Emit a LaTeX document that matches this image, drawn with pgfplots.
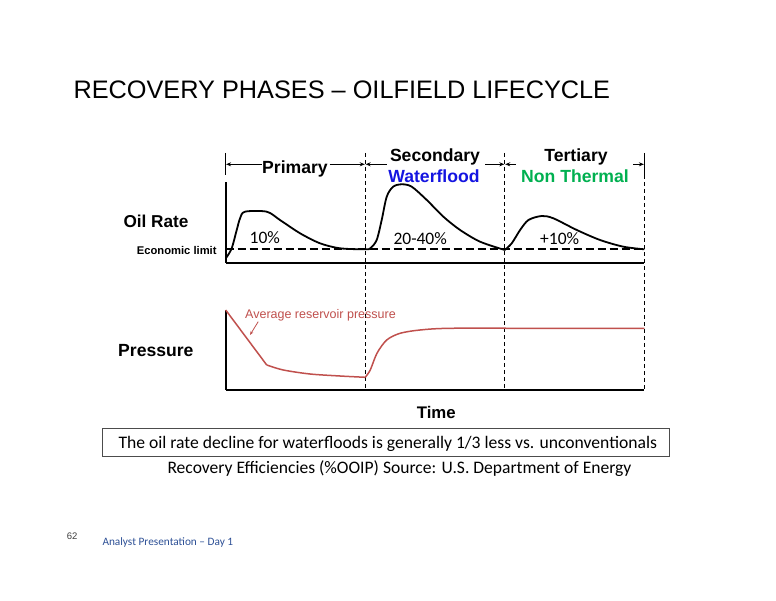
\documentclass[border=0pt]{standalone}
\usepackage{fontspec}
\setmainfont{Liberation Sans}
\newfontfamily\calfont{Carlito}
\usepackage{pgfplots}
\pgfplotsset{compat=1.18}
\usetikzlibrary{arrows.meta}
\definecolor{pred}{RGB}{192,80,77}
\definecolor{wblue}{RGB}{20,20,225}
\definecolor{ngreen}{RGB}{0,176,80}
\definecolor{fblue}{RGB}{45,80,150}
\newcommand{\fs}[1]{\fontsize{#1}{#1}\selectfont}
\begin{document}
\begin{tikzpicture}
\fill[white] (0pt,0pt) rectangle (776pt,600pt);
\path[use as bounding box] (0pt,0pt) rectangle (776pt,600pt);
% title
\node[anchor=base west,inner sep=0] at (73.3pt,501.7pt) {\fs{25.3}RECOVERY PHASES – OILFIELD LIFECYCLE};
% top panel: oil rate
\begin{axis}[at={(225.7pt,337pt)},anchor=south west,scale only axis,
  width=418.6pt,height=81pt,xmin=0,xmax=3,ymin=0,ymax=81,
  axis x line=bottom,axis y line=left,
  axis line style={-,line width=2pt,black},
  ticks=none,clip=false]
% economic limit
\addplot[black,line width=1.8pt,dash pattern=on 8pt off 4pt] coordinates {(0,13.7) (3,13.7)};
% dividers
\addplot[black,line width=1.1pt,dash pattern=on 4.5pt off 2.5pt] coordinates {(1,110) (1,-127)};
\addplot[black,line width=1.1pt,dash pattern=on 4.5pt off 2.5pt] coordinates {(2,110) (2,-127)};
\addplot[black,line width=1.1pt,dash pattern=on 4.5pt off 2.5pt] coordinates {(3,88) (3,-127)};
\addplot[black,line width=1.1pt] coordinates {(3,110) (3,88)};
\addplot[black,line width=1.1pt] coordinates {(0,110) (0,88)};
% oil rate curve
\addplot[black,line width=1.8pt,smooth] coordinates {
(0.005,5.5) (0.043,14.7) (0.079,33) (0.103,44.7) (0.138,51.3) (0.294,51.3)
(0.389,43) (0.533,29.7) (0.676,19.7) (0.819,14.7) (1.0,13.7)
(1.036,14.7) (1.082,23) (1.118,43) (1.154,66.3) (1.2,76.3) (1.262,78.7)
(1.333,76.3) (1.441,63) (1.56,46.3) (1.68,33) (1.823,21.3) (2.0,13)};
\addplot[black,line width=1.8pt,smooth] coordinates {
(2.0,13) (2.05,19.7) (2.11,33) (2.17,43) (2.265,47) (2.348,44.7)
(2.516,33) (2.683,23) (2.85,16.3) (3.0,13.7)};
% bracket arrows
\draw[line width=1pt,-{Stealth[length=5pt,width=4pt]}] (axis cs:0.26,98.7) -- (axis cs:0.003,98.7);
\draw[line width=1pt,-{Stealth[length=5pt,width=4pt]}] (axis cs:0.745,98.7) -- (axis cs:0.997,98.7);
\draw[line width=1pt,-{Stealth[length=5pt,width=4pt]}] (axis cs:1.155,98.7) -- (axis cs:1.003,98.7);
\draw[line width=1pt,-{Stealth[length=5pt,width=4pt]}] (axis cs:1.859,98.7) -- (axis cs:1.997,98.7);
\draw[line width=1pt,-{Stealth[length=5pt,width=4pt]}] (axis cs:2.08,98.7) -- (axis cs:2.003,98.7);
\draw[line width=1pt,-{Stealth[length=5pt,width=4pt]}] (axis cs:2.92,98.7) -- (axis cs:2.997,98.7);
\end{axis}
% bottom panel: pressure
\begin{axis}[at={(225.7pt,210pt)},anchor=south west,scale only axis,
  width=418.6pt,height=80pt,xmin=0,xmax=3,ymin=0,ymax=80,
  axis x line=bottom,axis y line=left,
  axis line style={-,line width=2pt,black},
  ticks=none,clip=false]
\addplot[pred,line width=1.5pt] coordinates {(0,80) (0.294,25)};
\addplot[pred,line width=1.5pt,smooth] coordinates {(0.294,25) (0.413,20) (0.604,16) (0.819,14) (1.0,12.7)};
\addplot[pred,line width=1.5pt,smooth] coordinates {(1.0,12.7) (1.036,20) (1.084,36.7) (1.154,50) (1.25,56.7) (1.393,60) (1.608,61.7) (2.2,61.7) (3.0,61.7)};
\draw[pred,line width=0.8pt,-{Stealth[length=4pt,width=3pt]}] (axis cs:0.233,68.3) -- (axis cs:0.174,55);
\end{axis}
% labels
\node[anchor=base west,inner sep=0,font=\bfseries] at (123.3pt,372.7pt) {\fs{17.2}Oil Rate};
\node[anchor=base west,inner sep=0,font=\bfseries] at (136.7pt,345.7pt) {\fs{11.2}Economic limit};
\node[anchor=base west,inner sep=0,font=\bfseries] at (118pt,243pt) {\fs{17.6}Pressure};
\node[anchor=base,inner sep=0,font=\bfseries] at (295pt,426.7pt) {\fs{17.6}Primary};
\node[anchor=base,inner sep=0,font=\bfseries] at (435pt,438.3pt) {\fs{17.6}Secondary};
\node[anchor=base,inner sep=0,font=\bfseries,text=wblue] at (434pt,417.7pt) {\fs{17.6}Waterflood};
\node[anchor=base,inner sep=0,font=\bfseries] at (576pt,438.3pt) {\fs{17.6}Tertiary};
\node[anchor=base,inner sep=0,font=\bfseries,text=ngreen] at (575pt,417.7pt) {\fs{17.6}Non Thermal};
\node[anchor=base,inner sep=0,font=\bfseries] at (436.3pt,181.7pt) {\fs{16.8}Time};
\node[anchor=base west,inner sep=0,text=pred] at (245pt,281pt) {\fs{12.5}Average reservoir pressure};
\node[anchor=base west,inner sep=0] at (249.5pt,356.7pt) {\calfont\fs{17.5}10\%};
\node[anchor=base west,inner sep=0] at (393.3pt,355.3pt) {\calfont\fs{17.5}20-40\%};
\node[anchor=base west,inner sep=0] at (540pt,355.3pt) {\calfont\fs{17.5}+10\%};
% note box
\draw[line width=0.9pt,black!70] (102.7pt,144pt) rectangle (669.3pt,171.7pt);
\node[anchor=base west,inner sep=0] at (118.3pt,151.7pt) {\calfont\fs{17.6}The oil rate decline for waterfloods is generally 1/3 less vs. unconventionals};
\node[anchor=base west,inner sep=0] at (167.3pt,126.7pt) {\calfont\fs{17.55}Recovery Efficiencies (\%OOIP) Source: U.S. Department of Energy};
% footer
\node[anchor=base west,inner sep=0,text=black!75] at (66.7pt,60.5pt) {\fs{9.5}62};
\node[anchor=base west,inner sep=0,text=fblue] at (102.3pt,55pt) {\calfont\fs{11.3}Analyst Presentation – Day 1};
\end{tikzpicture}
\end{document}
